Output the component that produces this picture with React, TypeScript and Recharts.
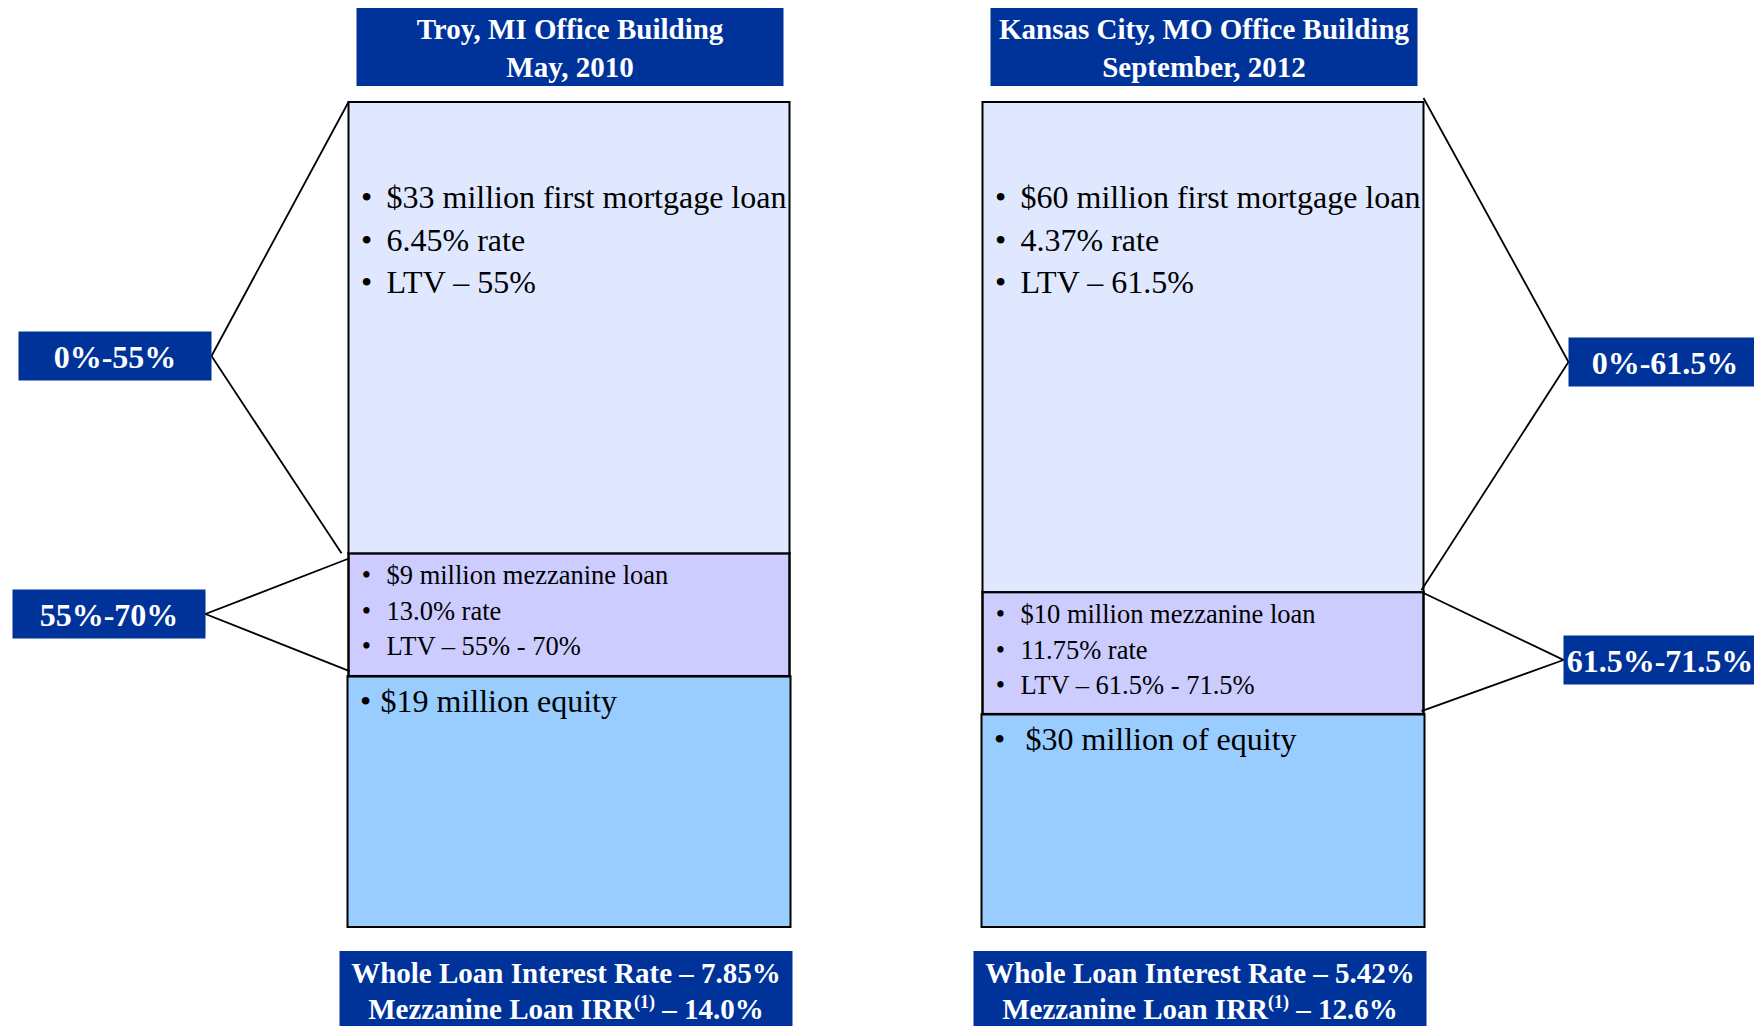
import React from "react";
import { BarChart, Bar, XAxis, YAxis } from "recharts";

const deals = ["Troy, MI Office Building", "Kansas City, MO Office Building"];
const closeDates = ["May, 2010", "September, 2012"];

// share of the capital stack in %, as drawn
const firstMortgage = [54.7, 59.4];
const mezzanine = [14.9, 14.8];
const equity = [30.4, 25.8];

const firstMortgageNotes = [
  ["$33 million first mortgage loan", "6.45% rate", "LTV – 55%"],
  ["$60 million first mortgage loan", "4.37% rate", "LTV – 61.5%"],
];
const mezzanineNotes = [
  ["$9 million mezzanine loan", "13.0% rate", "LTV – 55% - 70%"],
  ["$10 million mezzanine loan", "11.75% rate", "LTV – 61.5% - 71.5%"],
];
const equityNotes = ["$19 million equity", "$30 million of equity"];
const seniorRanges = ["0%-55%", "0%-61.5%"];
const mezzRanges = ["55%-70%", "61.5%-71.5%"];
const wholeLoanRates = ["7.85%", "5.42%"];
const mezzIrrs = ["14.0%", "12.6%"];

const data = deals.map((deal, i) => ({
  deal,
  firstMortgage: firstMortgage[i],
  mezzanine: mezzanine[i],
  equity: equity[i],
}));

const NAVY = "#003399";
const SENIOR = "#DFE8FF";
const MEZZ = "#CCCCFF";
const EQUITY = "#99CCFF";
const FONT = "'Liberation Serif', 'Times New Roman', serif";

// layout of the range tags (vertical centres)
const TAG_W = 193;
const TAG_H = 49;
const seniorTagY = [356, 362];
const mezzTagY = [614, 660];
const equityTextInset = [32, 43];

function Tag({ x, cy, label }: { x: number; cy: number; label: string }) {
  return (
    <g>
      <rect x={x} y={cy - TAG_H / 2} width={TAG_W} height={TAG_H} fill={NAVY} />
      <text x={x + TAG_W / 2} y={cy + 12} textAnchor="middle" fill="#fff" fontFamily={FONT} fontWeight="bold" fontSize={32}>
        {label}
      </text>
    </g>
  );
}

function Bullets({ x, y, lines, size, gap }: { x: number; y: number; lines: string[]; size: number; gap: number }) {
  return (
    <g fontFamily={FONT} fontSize={size} fill="#000">
      {lines.map((t, i) => (
        <g key={i}>
          <text x={x + 18} y={y + i * gap} textAnchor="middle">•</text>
          <text x={x + 38} y={y + i * gap}>{t}</text>
        </g>
      ))}
    </g>
  );
}

const SeniorShape = (p: any) => {
  const { x, y, width, height, index } = p;
  const left = index === 0;
  const boxX = left ? x - 330 : x + width + 145;
  const cy = seniorTagY[index];
  const apexX = left ? boxX + TAG_W : boxX;
  const pts = left
    ? `${x},${y} ${apexX},${cy} ${x - 7},${y + height}`
    : `${x + width},${y - 4} ${apexX},${cy} ${x + width - 2},${y + height - 2}`;
  return (
    <g>
      <rect x={x} y={y} width={width} height={height} fill={SENIOR} stroke="#000" strokeWidth={2} />
      <Bullets x={x} y={y + 106} lines={firstMortgageNotes[index]} size={32} gap={42.5} />
      <rect x={x + 8} y={y - 94} width={427} height={78} fill={NAVY} />
      <text x={x + 8 + 213.5} y={y - 63} textAnchor="middle" fill="#fff" fontFamily={FONT} fontWeight="bold" fontSize={29}>
        {deals[index]}
      </text>
      <text x={x + 8 + 213.5} y={y - 25} textAnchor="middle" fill="#fff" fontFamily={FONT} fontWeight="bold" fontSize={29}>
        {closeDates[index]}
      </text>
      <polyline points={pts} fill="none" stroke="#000" strokeWidth={1.8} />
      <Tag x={boxX} cy={cy} label={seniorRanges[index]} />
    </g>
  );
};

const MezzShape = (p: any) => {
  const { x, y, width, height, index } = p;
  const left = index === 0;
  const boxX = left ? x - 336 : x + width + 140;
  const cy = mezzTagY[index];
  const apexX = left ? boxX + TAG_W : boxX;
  const pts = left
    ? `${x + 1},${y + 5} ${apexX},${cy} ${x + 1},${y + height - 5}`
    : `${x + width},${y + 1} ${apexX},${cy} ${x + width - 2},${y + height - 3}`;
  return (
    <g>
      <rect x={x} y={y} width={width} height={height} fill={MEZZ} stroke="#000" strokeWidth={2.5} />
      <Bullets x={x} y={y + 31} lines={mezzanineNotes[index]} size={26.5} gap={35.5} />
      <polyline points={pts} fill="none" stroke="#000" strokeWidth={1.8} />
      <Tag x={boxX} cy={cy} label={mezzRanges[index]} />
    </g>
  );
};

const EquityShape = (p: any) => {
  const { x, y, width, height, index } = p;
  const bottom = y + height;
  return (
    <g>
      <rect x={x - 1} y={y} width={width + 2} height={height} fill={EQUITY} stroke="#000" strokeWidth={2} />
      <text x={x + 17} y={y + 36} textAnchor="middle" fontFamily={FONT} fontSize={32}>•</text>
      <text x={x + equityTextInset[index]} y={y + 36} fontFamily={FONT} fontSize={32}>{equityNotes[index]}</text>
      <rect x={x - 9} y={bottom + 24} width={453} height={80} fill={NAVY} />
      <g fill="#fff" fontFamily={FONT} fontWeight="bold" fontSize={29} textAnchor="middle">
        <text x={x - 9 + 226.5} y={bottom + 56}>Whole Loan Interest Rate – {wholeLoanRates[index]}</text>
        <text x={x - 9 + 226.5} y={bottom + 92}>
          Mezzanine Loan IRR
          <tspan fontSize={18} dy={-11}>(1)</tspan>
          <tspan dy={11}> – {mezzIrrs[index]}</tspan>
        </text>
      </g>
    </g>
  );
};

export default function App() {
  return (
    <div style={{ position: "fixed", left: 0, top: 0, width: 1754, height: 1026, background: "#fff" }}>
      <BarChart
        width={1754}
        height={1026}
        data={data}
        margin={{ top: 102, right: 234.5, bottom: 99, left: 251.5 }}
      >
        <XAxis dataKey="deal" hide />
        <YAxis hide domain={[0, 100]} />
        <Bar dataKey="equity" stackId="stack" barSize={441} shape={EquityShape} isAnimationActive={false} />
        <Bar dataKey="mezzanine" stackId="stack" barSize={441} shape={MezzShape} isAnimationActive={false} />
        <Bar dataKey="firstMortgage" stackId="stack" barSize={441} shape={SeniorShape} isAnimationActive={false} />
      </BarChart>
    </div>
  );
}
